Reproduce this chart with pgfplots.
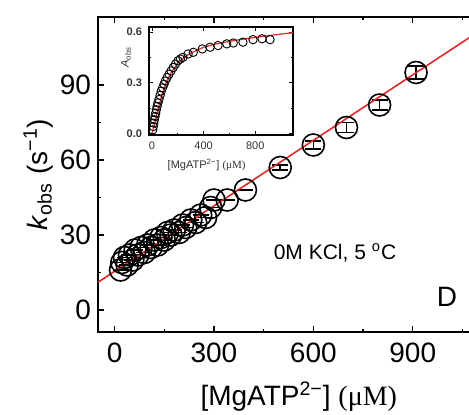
\documentclass[border=0pt]{standalone}
\usepackage{fontspec}
\setmainfont{Liberation Sans}
\newfontfamily\seriffont{Liberation Serif}
\usepackage{pgfplots}
\pgfplotsset{compat=1.18}
\definecolor{fitred}{RGB}{226,40,40}

\begin{document}
\begin{tikzpicture}
\clip (-49pt,-41.5pt) rectangle (185.5pt,166pt);
\begin{axis}[
  at={(0,0)}, anchor=south west,
  scale only axis, width=190.5pt, height=157.5pt,
  xmin=-50, xmax=1100, ymin=-8.8, ymax=117.2,
  xtick={0,300,600,900,1200}, ytick={0,30,60,90},
  minor x tick num=1, minor y tick num=1,
  tick align=inside,
  major tick length=3pt, minor tick length=1.7pt,
  tick style={line width=0.7pt, black},
  axis line style={line width=1pt},
  tick label style={font=\fontsize{14}{16}\selectfont},
  xticklabel style={yshift=-2pt},
  /pgf/number format/assume math mode=true,
  clip=false,
]
\addplot[only marks, mark=o, mark size=5.5pt, black, mark options={line width=0.8pt},
  error bars/.cd, y dir=both, y explicit, error bar style={line width=0.8pt},
  error mark options={rotate=90, mark size=4pt, line width=0.8pt}]
  table[x=x, y=y, y error=e] {
x y e
18 16 0
22 19 0
30 21 0
38 18 0
45 22 0
55 20 0
62 24 0
70 22 0
80 25 0
90 23 0
100 26 0
110 25 0
120 28 0
130 26 0
140 29 0
150 28 0
160 31 0
170 30 0
180 32 0
195 31 0
205 34 0
215 33 0
230 36 0
245 35 0
260 38 0
275 37 0
290 41 0
300 44 0
340 44 0
395 48 0
500 57 1
600 66 1.5
700 73 2
800 82 2
910 95 2.5
};
\addplot[fitred, line width=0.8pt] coordinates {(-50,11.1)(1100,111.5)};
\node[font=\fontsize{10.5}{12}\selectfont] at (rel axis cs:0.622,0.251) {0M KCl, 5 \textsuperscript{o}C};
\node[font=\fontsize{14}{16}\selectfont] at (rel axis cs:0.916,0.111) {D};
\node[rotate=90, font=\fontsize{14}{16}\selectfont] at (rel axis cs:-0.157,0.5)
  {\textit{k}\textsubscript{obs} (s\textsuperscript{−1})};
\node[font=\fontsize{14}{16}\selectfont] at (rel axis cs:0.527,-0.206)
  {[MgATP\textsuperscript{2−}] {\seriffont (μM)}};
\end{axis}

\begin{axis}[
  at={(25.5pt,98.5pt)}, anchor=south west,
  scale only axis, width=72pt, height=54pt,
  xmin=-23, xmax=1093, ymin=-0.01, ymax=0.63,
  xtick={0,400,800}, ytick={0,0.3,0.6},
  minor x tick num=1, minor y tick num=1,
  tick align=inside,
  major tick length=2pt, minor tick length=1.2pt,
  tick style={line width=0.4pt, black},
  axis line style={line width=0.6pt},
  axis background/.style={fill=white},
  tick label style={font=\fontsize{5.5}{6}\selectfont, black!80},
  yticklabel style={font=\fontsize{5.5}{6}\selectfont\bfseries},
  yticklabel={\pgfmathprintnumber[fixed, fixed zerofill, precision=1]{\tick}},
  /pgf/number format/assume math mode=true,
  clip=false,
]
\addplot[only marks, mark=o, mark size=2.1pt, black, mark options={line width=0.45pt}] coordinates {
(6,0.02)(10,0.04)(14,0.06)(19,0.08)(24,0.10)(29,0.12)(34,0.14)(40,0.16)(46,0.18)
(54,0.20)(63,0.225)(72,0.25)(82,0.27)(93,0.29)(104,0.31)(117,0.33)(132,0.35)
(148,0.37)(165,0.39)(182,0.41)(202,0.43)(220,0.44)(240,0.45)(280,0.47)
(320,0.48)(390,0.50)(450,0.51)(512,0.52)(580,0.53)(630,0.535)(705,0.54)
(783,0.555)(853,0.56)(915,0.555)
};
\addplot[fitred, line width=0.6pt] coordinates {
(0,0)(20,0.05)(40,0.12)(60,0.18)(80,0.235)(100,0.28)(120,0.318)(150,0.362)
(200,0.415)(250,0.45)(300,0.475)(400,0.51)(500,0.53)(600,0.545)(700,0.557)
(800,0.568)(900,0.578)(1000,0.588)(1093,0.596)
};
\node[rotate=90, font=\fontsize{5.5}{6}\selectfont, black!80] at (rel axis cs:-0.16,0.72)
  {\textit{A}\textsubscript{obs}};
\node[font=\fontsize{5.5}{6}\selectfont, black!80] at (rel axis cs:0.40,-0.28)
  {[MgATP\textsuperscript{2−}] {\seriffont (μM)}};
\end{axis}
\end{tikzpicture}
\end{document}
